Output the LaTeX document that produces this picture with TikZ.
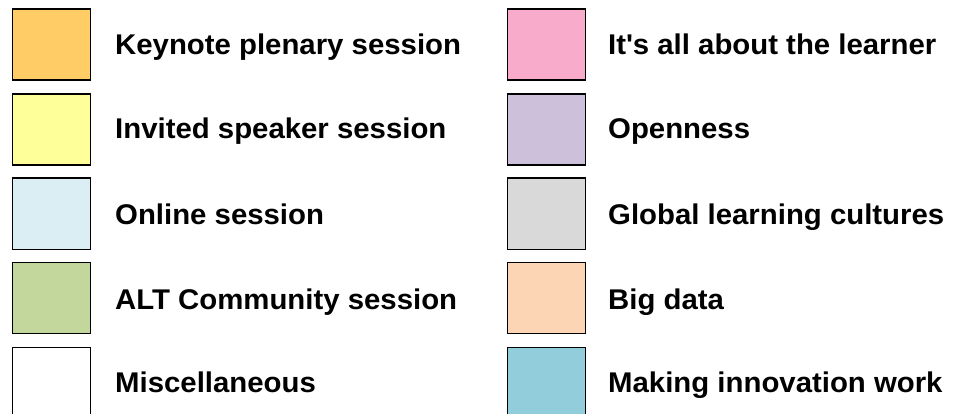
\documentclass[tikz,border=0pt]{standalone}
\usepackage{fontspec}
\setmainfont[FakeStretch=1.03]{Liberation Sans}
\definecolor{ckey}{HTML}{FFCC66}
\definecolor{cinv}{HTML}{FFFF99}
\definecolor{conl}{HTML}{DAEEF3}
\definecolor{calt}{HTML}{C3D69B}
\definecolor{cmis}{HTML}{FFFFFF}
\definecolor{clea}{HTML}{F9ABCC}
\definecolor{cope}{HTML}{CCC0DA}
\definecolor{cglo}{HTML}{D9D9D9}
\definecolor{cbig}{HTML}{FCD5B4}
\definecolor{cinn}{HTML}{92CDDC}
\tikzset{
  swatch/.style={draw=black, line width=1.6pt, minimum width=78pt, minimum height=71pt, inner sep=0pt, anchor=north west},
  lbl/.style={anchor=base west, inner sep=0pt, font=\bfseries\fontsize{28.5}{32}\selectfont}
}
\begin{document}
\begin{tikzpicture}[x=1pt,y=-1pt]
\useasboundingbox (0,0) rectangle (960,414);
\clip (0,0) rectangle (960,414);
\node[swatch, fill=ckey] (b1) at (11.5,8.5) {};
\node[swatch, fill=cinv] (b2) at (11.5,93.5) {};
\node[swatch, fill=conl] (b3) at (11.5,177.5) {};
\node[swatch, fill=calt] (b4) at (11.5,261.5) {};
\node[swatch, fill=cmis] (b5) at (11.5,346.5) {};
\node[swatch, fill=clea] (b6) at (506.5,8.5) {};
\node[swatch, fill=cope] (b7) at (506.5,93.5) {};
\node[swatch, fill=cglo] (b8) at (506.5,177.5) {};
\node[swatch, fill=cbig] (b9) at (506.5,261.5) {};
\node[swatch, fill=cinn] (b10) at (506.5,346.5) {};
\node[lbl] (t1) at (115,55) {Keynote plenary session};
\node[lbl] (t2) at (115,139) {Invited speaker session};
\node[lbl] (t3) at (115,224) {Online session};
\node[lbl] (t4) at (115,309) {ALT Community session};
\node[lbl] (t5) at (115,392) {Miscellaneous};
\node[lbl] (t6) at (608,55) {It\textquotesingle s all about the learner};
\node[lbl] (t7) at (608,139) {Openness};
\node[lbl] (t8) at (608,224) {Global learning cultures};
\node[lbl] (t9) at (608,309) {Big data};
\node[lbl] (t10) at (608,392) {Making innovation work};
\end{tikzpicture}
\end{document}
